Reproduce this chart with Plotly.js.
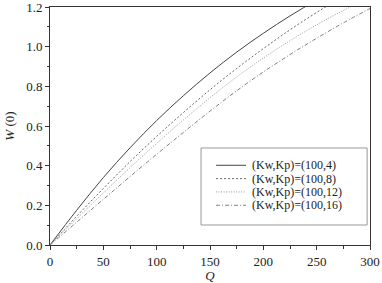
<!DOCTYPE html>
<html>
<head>
<meta charset="utf-8">
<script src="https://cdn.plot.ly/plotly-3.0.1.min.js"></script>
<style>html,body{margin:0;padding:0;background:#fff;}#chart{width:382px;height:283px;}</style>
</head>
<body>
<div id="chart"></div>
<script>
var Q = [0, 25, 50, 75, 100, 125, 150, 175, 200, 225, 250, 275, 300];
var W_kp4  = [0, 0.175, 0.34, 0.49, 0.6275, 0.7525, 0.8675, 0.9725, 1.0675, 1.155, 1.235, 1.31, 1.38];
var W_kp8  = [0, 0.145, 0.285, 0.42, 0.5475, 0.6675, 0.7825, 0.89, 0.99, 1.085, 1.1725, 1.255, 1.33];
var W_kp12 = [0, 0.1325, 0.2625, 0.39, 0.5125, 0.63, 0.7425, 0.8475, 0.9425, 1.03, 1.11, 1.1825, 1.25];
var W_kp16 = [0, 0.115, 0.23, 0.345, 0.4575, 0.5675, 0.675, 0.7775, 0.8725, 0.96, 1.0425, 1.12, 1.1925];
var seriesNames = ['(Kw,Kp)=(100,4)', '(Kw,Kp)=(100,8)', '(Kw,Kp)=(100,12)', '(Kw,Kp)=(100,16)'];
var xTicks = [0, 50, 100, 150, 200, 250, 300];
var yTicks = [0.0, 0.2, 0.4, 0.6, 0.8, 1.0, 1.2];
var yTickText = ['0.0', '0.2', '0.4', '0.6', '0.8', '1.0', '1.2'];

var serif = '"Liberation Serif", "Times New Roman", Times, serif';
var styles = [
  {color: '#444444', dash: 'solid', width: 1},
  {color: '#666666', dash: '2px,2px', width: 1},
  {color: '#9a9a9a', dash: '1px,1.5px', width: 1},
  {color: '#808080', dash: '4px,2px,1px,2px', width: 1}
];
var ys = [W_kp4, W_kp8, W_kp12, W_kp16];
var traces = ys.map(function (y, i) {
  return {x: Q, y: y, type: 'scatter', mode: 'lines', name: seriesNames[i],
          line: {color: styles[i].color, dash: styles[i].dash, width: styles[i].width, shape: 'spline', smoothing: 1},
          showlegend: false, hoverinfo: 'skip'};
});

// manual legend (paper coordinates)
var shapes = [{type: 'rect', xref: 'paper', yref: 'paper', x0: 0.472, x1: 0.991, y0: 0.084, y1: 0.4076,
               line: {color: '#999999', width: 1}, fillcolor: 'rgba(255,255,255,1)', layer: 'above'}];
var annotations = [];
var rowY = [0.335, 0.279, 0.223, 0.167];
for (var i = 0; i < 4; i++) {
  shapes.push({type: 'line', xref: 'paper', yref: 'paper', x0: 0.519, x1: 0.6125, y0: rowY[i], y1: rowY[i],
               line: {color: styles[i].color, dash: styles[i].dash, width: 1}, layer: 'above'});
  annotations.push({xref: 'paper', yref: 'paper', x: 0.625, y: rowY[i], xanchor: 'left', yanchor: 'middle',
                    text: seriesNames[i], showarrow: false,
                    font: {family: serif, size: 12, color: '#222'}});
}

var axisCommon = {
  showline: true, mirror: true, linecolor: '#333', linewidth: 1,
  ticks: 'outside', ticklen: 4, tickwidth: 1, tickcolor: '#333',
  showgrid: false, zeroline: false, ticklabeloverflow: 'allow',
  tickfont: {family: serif, size: 13, color: '#222'}
};
var layout = {
  width: 382, height: 283,
  margin: {l: 50, r: 12, t: 7, b: 38},
  paper_bgcolor: '#fff', plot_bgcolor: '#fff',
  font: {family: serif},
  xaxis: Object.assign({}, axisCommon, {
    range: [0, 300], tickmode: 'array', tickvals: xTicks,
    minor: {dtick: 25, ticks: 'outside', ticklen: 2.5, tickcolor: '#333', showgrid: false},
    title: {text: '<i>Q</i>', font: {family: serif, size: 13, color: '#222'}, standoff: 7}
  }),
  yaxis: Object.assign({}, axisCommon, {
    range: [0, 1.2], tickmode: 'array', tickvals: yTicks, ticktext: yTickText,
    minor: {dtick: 0.1, ticks: 'outside', ticklen: 2.5, tickcolor: '#333', showgrid: false},
    title: {text: '<i>W</i> (0)', font: {family: serif, size: 13, color: '#222'}, standoff: 8}
  }),
  shapes: shapes,
  annotations: annotations,
  showlegend: false
};
Plotly.newPlot('chart', traces, layout, {staticPlot: true, displayModeBar: false});
</script>
</body>
</html>
